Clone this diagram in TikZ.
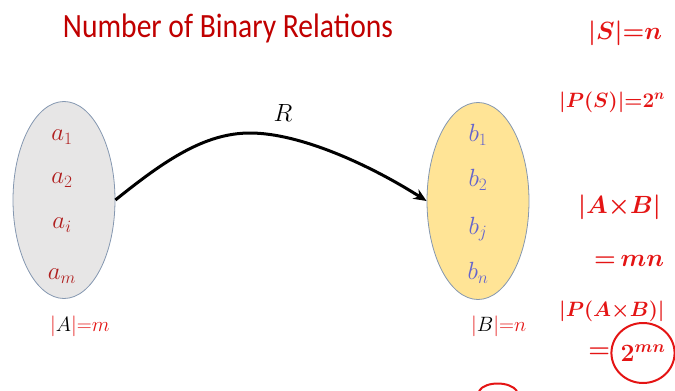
\documentclass[tikz,border=0pt]{standalone}
\usepackage{amsmath}
\usepackage{graphicx}
\usepackage{fontspec}
\setmainfont{Carlito}
\usepackage{xcolor}
\definecolor{titlered}{RGB}{192,0,0}
\definecolor{elemred}{RGB}{176,30,30}
\definecolor{elemblue}{RGB}{100,100,205}
\definecolor{setedge}{RGB}{132,151,176}
\definecolor{setgray}{RGB}{231,230,230}
\definecolor{setgold}{RGB}{255,228,150}
\definecolor{inkred}{RGB}{228,20,20}
\usepackage{tikz}
\usetikzlibrary{shapes.geometric, arrows.meta, positioning}

\begin{document}
\begin{tikzpicture}[x=1pt, y=-1pt,
	setshape/.style={ellipse, draw=setedge, line width=0.8pt, minimum width=102pt,
	                 minimum height=197pt, inner sep=0pt},
	setA/.style={setshape, fill=setgray},
	setB/.style={setshape, fill=setgold},
	elem/.style={font=\fontsize{26}{30}\selectfont, inner sep=0pt},
	elemA/.style={elem, text=elemred},
	elemB/.style={elem, text=elemblue},
	arr/.style={-{Stealth[length=13pt, width=11pt]}, line width=3pt, draw=black},
	ink/.style={text=inkred, font=\fontsize{24}{28}\selectfont\boldmath, inner sep=0pt, anchor=west},
	inksmall/.style={ink, font=\fontsize{22}{26}\selectfont\boldmath},
	card/.style={text=inkred, font=\fontsize{22}{26}\selectfont, inner sep=0pt, anchor=west},
	ring/.style={ellipse, draw=inkred, line width=2pt, minimum width=54pt, minimum height=60pt, inner sep=0pt}
	]
	\useasboundingbox (0,0) rectangle (675,391);

	\node[font=\fontsize{34}{40}\selectfont, text=titlered, anchor=base] (title) at (228,37)
		{\scalebox{0.87}[1]{Number of Binary Relations}};

	\node[setA] (A) at (64,200) {};
	\node[setB] (B) at (478,201) {};

	\node[elemA] (a1) at (62,137) {$a_1$};
	\node[elemA] (a2) at (62,180) {$a_2$};
	\node[elemA] (ai) at (62,225) {$a_i$};
	\node[elemA] (am) at (62,276) {$a_m$};

	\node[elemB] (b1) at (478,135) {$b_1$};
	\node[elemB] (b2) at (478,180) {$b_2$};
	\node[elemB] (bj) at (478,229) {$b_j$};
	\node[elemB] (bn) at (478,273) {$b_n$};

	\coordinate (peak) at (250,133);
	\draw[arr] (A.east) .. controls (165,160) and (205,133) .. (peak)
	           .. controls (300,133) and (370,165) .. (B.west);
	\node[elem] (rel) at (283,113) {$R$};

	\node[card] (cardA) at (50,326) {$|\textcolor{black}{A}|{=}m$};
	\node[card] (cardB) at (471,326) {$|\textcolor{black}{B}|{=}n$};

	\node[ink] (sizeS) at (588,33) {$|S|{=}n$};
	\node[inksmall] (powS) at (559,102) {$|P(S)|{=}2^{n}$};
	\node[ink] (prod) at (578,207) {$|A{\times}B|$};
	\node[ink] (prodsize) at (594,261) {${=}\,mn$};
	\node[inksmall] (powprod) at (559,311) {$|P(A{\times}B)|$};
	\node[ring, text=inkred, font=\fontsize{24}{28}\selectfont\boldmath] (count) at (643,353) {$2^{mn}$};
	\node[ink, anchor=east] (eq) at (count.west) {${=}$};

	\draw[inkred, line width=2pt] (479,391) .. controls (485,381) and (510,381) .. (517,391);
\end{tikzpicture}
\end{document}
